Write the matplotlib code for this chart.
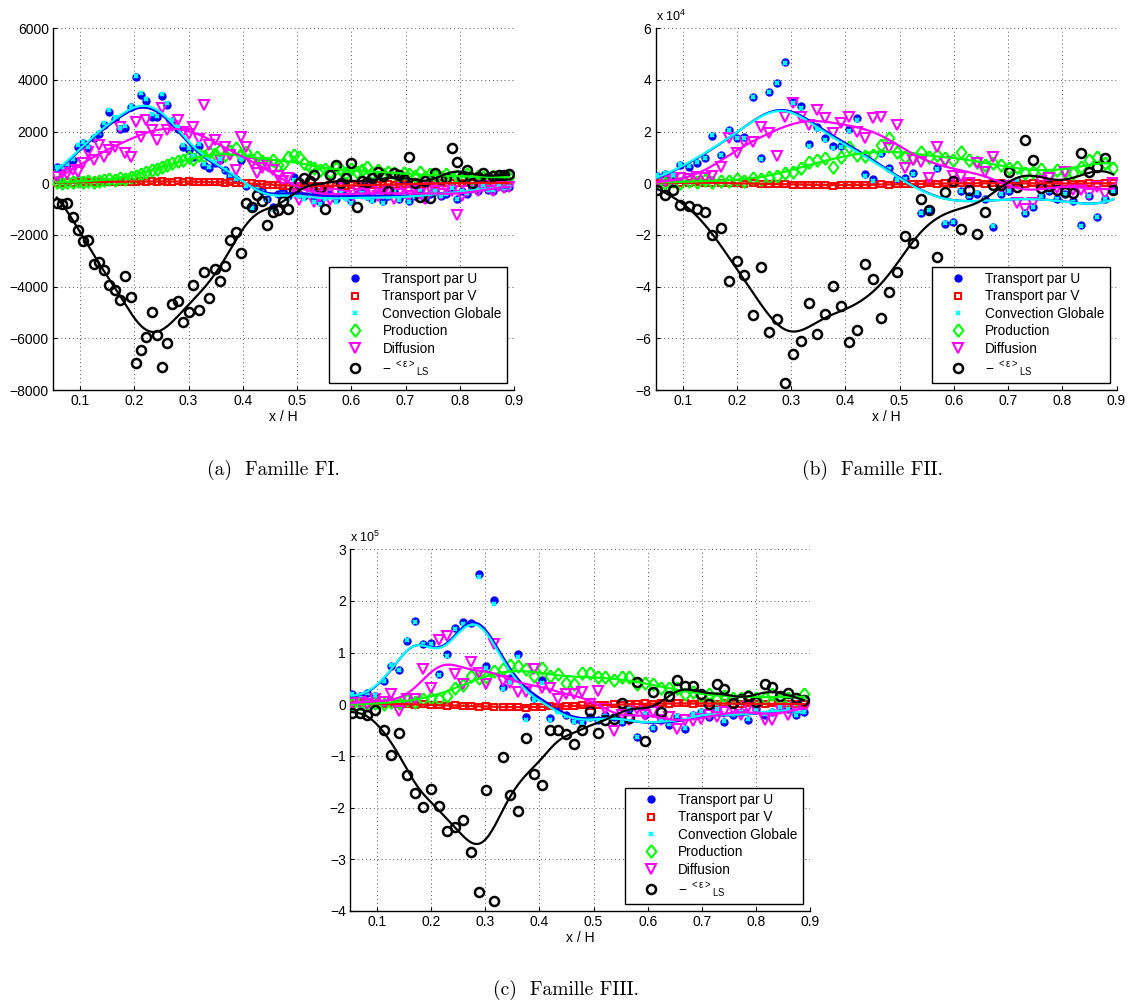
import numpy as np
import matplotlib
matplotlib.use("Agg")
import matplotlib.pyplot as plt

plt.rcParams['font.family'] = ['Liberation Sans', 'DejaVu Sans']
plt.rcParams['mathtext.fontset'] = 'custom'
plt.rcParams['mathtext.rm'] = 'Liberation Sans'
plt.rcParams['mathtext.it'] = 'Liberation Sans'

# ---------------- data : family FI ----------------
x_a = [0.057,0.067,0.076,0.086,0.096,0.106,0.115,0.125,0.135,0.144,
       0.154,0.164,0.173,0.183,0.193,0.203,0.212,0.222,0.232,0.241,
       0.251,0.261,0.270,0.280,0.290,0.300,0.309,0.319,0.329,0.338,
       0.348,0.358,0.367,0.377,0.387,0.397,0.406,0.416,0.426,0.435,
       0.445,0.455,0.464,0.474,0.484,0.494,0.503,0.513,0.523,0.532,
       0.542,0.552,0.561,0.571,0.581,0.591,0.600,0.610,0.620,0.629,
       0.639,0.649,0.658,0.668,0.678,0.688,0.697,0.707,0.717,0.726,
       0.736,0.746,0.755,0.765,0.775,0.785,0.794,0.804,0.814,0.823,
       0.833,0.843,0.852,0.862,0.872,0.882,0.891]
u_a = [620,600,700,900,1420,1550,1350,1740,1900,2260,
       2770,2500,2100,2130,2940,4100,3420,3200,2580,2550,
       3380,3030,2400,2100,1400,1300,1000,1450,700,580,
       770,900,500,300,150,900,-100,-970,-200,-300,
       -600,-900,-400,-300,-500,260,-400,-500,-300,-600,
       -710,-500,-400,-600,-300,-500,-700,-400,-300,-500,
       -600,-400,-700,-500,-300,-600,-400,-700,-500,-300,
       -600,-400,-300,-500,-400,-200,-600,-300,-400,-200,
       -300,-100,-250,-300,-100,-200,-150]
v_a = [30,20,40,30,50,40,60,50,40,60,
       70,50,60,80,70,60,80,70,90,60,
       80,70,60,90,70,80,60,70,50,60,
       40,50,30,40,20,30,10,0,-20,-40,
       -60,-80,-70,-100,-90,-120,-100,-110,-90,-130,
       -100,-120,-80,-110,-90,-100,-70,-90,-80,-60,
       -70,-50,-60,-40,-50,-30,-40,-20,-30,-10,
       -20,0,-10,10,0,20,10,0,20,10,
       30,20,10,30,20,10,20]
p_a = [50,30,60,40,80,50,90,70,100,120,
       150,130,200,180,250,300,350,420,500,550,
       620,700,780,850,900,1000,950,1100,1050,1200,
       1150,1300,1100,1250,1350,1100,1200,900,1000,850,
       800,900,700,750,1000,1100,1030,800,650,600,
       500,550,450,600,500,400,550,450,500,650,
       400,500,350,450,400,300,400,350,300,450,
       250,350,300,250,350,200,300,250,350,200,
       300,250,200,300,250,200,250]
d_a = [260,390,350,500,450,770,1230,900,1480,1030,
       1300,1420,2190,1160,1030,2390,1800,2450,2060,1680,
       2900,2060,2200,2450,2000,1900,2190,1700,3030,1480,
       1680,900,1420,1100,520,1800,1420,770,390,600,
       700,520,300,100,200,-200,-650,-400,-300,-710,
       -500,-300,-650,-400,-200,-500,-650,-300,-400,-200,
       -300,-500,-400,-300,-600,-400,-200,-500,-300,-400,
       -600,-200,-300,-400,-200,-300,-1220,-500,-300,-200,
       -300,-100,-200,-300,-100,-200,-150]
e_a = [-770,-800,-780,-1290,-1800,-2220,-2190,-3130,-3030,-3350,
       -3930,-4130,-4510,-3590,-4390,-6940,-6450,-5960,-4970,-5870,
       -7120,-6170,-4680,-4550,-5350,-4970,-3930,-4900,-3420,-4450,
       -3310,-3770,-3200,-2190,-1900,-2700,-770,-900,-450,-700,
       -1610,-1100,-1030,-670,-1000,-250,30,200,100,320,
       -200,-1000,320,710,0,190,770,-930,100,60,
       200,450,300,-300,390,320,150,1030,0,-520,
       100,-580,390,150,190,1380,840,260,520,0,
       260,390,200,300,320,320,350]

# ---------------- data : family FII (x 1e4) ----------------
x_b = [0.052,0.067,0.082,0.096,0.111,0.126,0.141,0.155,0.170,0.185,
       0.200,0.214,0.229,0.244,0.259,0.274,0.288,0.303,0.318,0.333,
       0.347,0.362,0.377,0.392,0.406,0.421,0.436,0.451,0.466,0.480,
       0.495,0.510,0.525,0.539,0.554,0.569,0.584,0.599,0.613,0.628,
       0.643,0.658,0.672,0.687,0.702,0.717,0.731,0.746,0.761,0.776,
       0.791,0.805,0.820,0.835,0.850,0.864,0.879,0.894]
u_b = [0.30,0.36,0.30,0.71,0.65,0.77,0.97,1.83,1.10,2.06,
       1.74,1.78,3.35,0.97,3.55,3.90,4.71,3.16,2.99,1.51,
       2.19,1.74,1.45,1.45,2.10,2.52,0.35,0.15,1.16,0.60,
       0.15,0.20,0.39,-1.13,-1.02,0.58,-1.56,-1.50,-0.30,-0.50,
       -0.40,-0.60,-1.69,-0.40,-0.30,0.10,-1.14,-0.90,-0.50,-0.30,
       -0.60,-0.40,-0.70,-1.63,-0.50,-1.30,-0.60,-0.30]
v_b = [0.02,0.03,0.01,0.03,0.02,0.04,0.02,0.03,0.01,0.02,
       0.00,-0.01,0.00,-0.02,-0.03,-0.02,-0.04,-0.05,-0.06,-0.05,
       -0.08,-0.07,-0.09,-0.06,-0.08,-0.07,-0.06,-0.05,-0.04,-0.05,
       -0.03,-0.04,-0.02,-0.03,0.00,-0.02,0.01,-0.01,0.02,0.00,
       0.01,-0.01,0.02,0.00,-0.01,0.01,-0.02,0.00,-0.01,0.01,
       -0.02,0.00,-0.01,-0.02,0.00,-0.01,0.01,0.00]
p_b = [0.05,0.00,0.08,0.02,0.10,0.05,0.12,0.06,0.10,0.08,
       0.15,0.10,0.20,0.15,0.25,0.30,0.39,0.45,0.60,0.84,
       0.90,0.97,0.65,1.03,1.42,1.10,1.05,1.10,1.48,1.74,
       1.20,1.00,0.97,1.20,1.03,1.10,0.97,0.90,1.23,0.90,
       0.84,0.70,0.77,0.70,0.58,0.65,0.39,0.45,0.55,0.32,
       0.52,0.45,0.39,0.65,0.90,1.03,0.77,0.58]
d_b = [0.06,0.10,0.12,0.20,0.15,0.25,0.19,0.30,0.65,1.74,
       1.16,1.61,1.61,2.19,1.94,1.06,2.58,3.10,2.58,2.26,
       2.84,2.52,1.94,2.32,2.58,2.00,1.74,2.52,2.58,1.35,
       2.26,0.58,0.90,0.84,0.19,1.42,0.84,0.30,0.25,0.00,
       0.77,0.45,1.03,-0.20,-0.10,-0.75,-1.00,-0.75,0.10,0.20,
       -0.20,0.45,-0.25,-0.25,-0.40,-0.15,-0.40,0.00]
e_b = [-0.27,-0.46,-0.25,-0.85,-0.89,-0.98,-1.11,-2.01,-1.72,-3.79,
       -3.01,-3.56,-5.08,-3.24,-5.75,-5.26,-7.72,-6.59,-6.12,-4.62,
       -5.85,-5.07,-3.97,-4.76,-6.14,-5.69,-3.11,-3.72,-5.20,-4.21,
       -3.43,-2.05,-2.31,-0.62,-1.05,-2.85,-0.34,0.09,-1.75,-0.27,
       -1.97,-1.11,-0.08,-0.06,0.45,-0.13,1.68,0.90,-0.19,-0.10,
       -0.26,-0.32,-0.39,1.16,0.45,0.65,0.97,-0.26]

# ---------------- data : family FIII (x 1e5) ----------------
x_c = [0.053,0.068,0.082,0.097,0.112,0.126,0.141,0.156,0.170,0.185,
       0.200,0.214,0.229,0.244,0.258,0.273,0.288,0.302,0.317,0.332,
       0.346,0.361,0.376,0.390,0.405,0.420,0.434,0.449,0.464,0.478,
       0.493,0.508,0.522,0.537,0.552,0.566,0.581,0.596,0.610,0.625,
       0.640,0.654,0.669,0.684,0.698,0.713,0.728,0.742,0.757,0.772,
       0.786,0.801,0.816,0.830,0.845,0.860,0.874,0.889]
u_c = [0.19,0.16,0.21,0.16,0.45,0.74,0.66,1.23,1.61,1.17,
       1.19,0.58,0.97,1.47,1.60,1.58,2.52,0.74,2.01,0.34,
       0.50,0.97,-0.24,0.13,0.48,-0.26,-0.10,-0.20,-0.30,-0.35,
       -0.25,-0.30,-0.20,-0.25,-0.34,-0.10,-0.63,-0.20,-0.46,-0.30,
       -0.40,-0.25,-0.48,-0.20,-0.15,-0.25,-0.10,-0.34,-0.20,-0.15,
       -0.30,-0.10,-0.20,-0.15,-0.05,-0.10,-0.21,-0.15]
v_c = [0.01,0.02,0.00,0.02,0.01,0.02,0.00,0.01,-0.01,0.00,
       -0.02,-0.01,-0.03,-0.02,-0.04,-0.03,-0.05,-0.04,-0.06,-0.05,
       -0.06,-0.05,-0.07,-0.05,-0.06,-0.04,-0.05,-0.03,-0.04,-0.02,
       -0.03,-0.01,-0.02,0.00,-0.01,0.01,0.00,0.02,0.01,0.02,
       0.01,0.03,0.02,0.01,0.03,0.02,0.01,0.02,0.00,0.01,
       0.02,0.00,0.01,0.02,0.00,0.01,0.00,0.01]
p_c = [0.00,0.02,-0.02,0.03,0.00,0.05,0.02,0.08,0.05,0.10,
       0.12,0.10,0.16,0.32,0.38,0.55,0.50,0.52,0.65,0.68,
       0.77,0.74,0.68,0.55,0.71,0.55,0.58,0.42,0.39,0.61,
       0.61,0.52,0.52,0.48,0.52,0.52,0.39,0.42,0.39,0.32,
       0.32,0.32,0.19,0.23,0.16,0.19,0.13,0.16,0.13,0.13,
       0.16,0.13,0.13,0.19,0.10,0.13,0.10,0.19]
d_c = [0.03,0.05,0.00,0.10,0.05,0.19,-0.13,0.10,0.10,0.68,
       0.32,1.24,1.32,0.58,0.39,0.81,0.61,0.39,1.17,0.45,
       0.42,0.23,0.23,0.69,0.32,0.32,0.10,0.19,0.19,0.23,
       0.00,0.25,-0.10,-0.52,-0.20,-0.30,-0.10,-0.20,-0.15,-0.30,
       -0.25,-0.48,-0.30,-0.32,-0.28,-0.20,-0.25,-0.15,-0.10,-0.20,
       -0.05,-0.10,-0.30,-0.30,-0.10,-0.20,-0.05,-0.10]
e_c = [-0.17,-0.17,-0.21,-0.11,-0.50,-0.98,-0.56,-1.37,-1.72,-1.99,
       -1.63,-1.97,-2.46,-2.37,-2.24,-2.86,-3.64,-1.66,-3.81,-1.01,
       -1.75,-2.06,-0.66,-1.34,-1.57,-0.50,-0.50,-0.57,-0.77,-0.50,
       -0.12,-0.56,-0.30,-0.29,0.02,-0.27,0.44,-0.71,0.23,-0.15,
       0.16,0.48,0.35,0.35,0.19,0.00,0.39,0.29,0.03,0.10,
       0.16,0.05,0.39,0.34,0.16,0.21,0.12,0.08]

labels = ["Transport par U", "Transport par V", "Convection Globale",
          "Production", "Diffusion",
          "\u2212 $^{\\mathregular{<\u03b5>}}$$_{\\mathregular{LS}}$"]
captions = ["(a)  Famille FI.", "(b)  Famille FII.", "(c)  Famille FIII."]


def smooth(x, y, h):
    x = np.asarray(x, float)
    y = np.asarray(y, float)
    xs = np.linspace(x.min(), x.max(), 300)
    out = []
    for x0 in xs:
        w = np.exp(-0.5 * ((x - x0) / h) ** 2)
        W = w.sum()
        mx = (w * x).sum() / W
        my = (w * y).sum() / W
        b = (w * (x - mx) * (y - my)).sum() / (w * (x - mx) ** 2).sum()
        out.append(my + b * (x0 - mx))
    return xs, np.array(out)


W, H = 1133, 1006
fig = plt.figure(figsize=(W / 100, H / 100), dpi=100)

# bandwidths: U, V, Conv, P, D, E
panels = [
    dict(rect=(53, 28.3, 461, 361.7), x=x_a, u=u_a, v=v_a, p=p_a, d=d_a, e=e_a,
         ylim=(-8000, 6000), yt=np.arange(-8000, 6001, 2000), exp=None,
         cap=(273, 470), bw=(0.032, 0.04, 0.032, 0.04, 0.04, 0.028)),
    dict(rect=(655.5, 28.3, 461, 361.7), x=x_b, u=u_b, v=v_b, p=p_b, d=d_b, e=e_b,
         ylim=(-8, 6), yt=np.arange(-8, 7, 2), exp='4', cap=(872, 470),
         bw=(0.05, 0.04, 0.05, 0.045, 0.045, 0.04)),
    dict(rect=(350, 549.3, 460, 361.7), x=x_c, u=u_c, v=v_c, p=p_c, d=d_c, e=e_c,
         ylim=(-4, 3), yt=np.arange(-4, 4, 1), exp='5', cap=(566, 990),
         bw=(0.027, 0.04, 0.027, 0.045, 0.032, 0.025)),
]

blue, red, cyan, green, mag = '#0000ff', '#ff0000', '#00ffff', '#00ff00', '#ff00ff'
diamond = [(0, 1), (0.78, 0), (0, -1), (-0.78, 0), (0, 1)]

for k, P in enumerate(panels):
    l, t, w, h = P['rect']
    ax = fig.add_axes([l / W, 1 - (t + h) / H, w / W, h / H])
    x = P['x']
    conv = [a + b for a, b in zip(P['u'], P['v'])]
    ax.plot(x, P['u'], 'o', ls='none', color=blue, mec=blue, ms=5, zorder=3, label=labels[0])
    ax.plot(x, P['v'], 's', ls='none', mfc='none', mec=red, ms=5, mew=1.5, zorder=3, label=labels[1])
    ax.plot(x, conv, 'x', ls='none', color=cyan, ms=3.5, mew=1.5, zorder=3.1, label=labels[2])
    ax.plot(x, P['p'], marker=diamond, ls='none', mfc='none', mec=green, ms=9, mew=1.5, zorder=3, label=labels[3])
    ax.plot(x, P['d'], 'v', ls='none', mfc='none', mec=mag, ms=7.5, mew=1.5, zorder=3, label=labels[4])
    ax.plot(x, P['e'], 'o', ls='none', mfc='none', mec='black', ms=6.5, mew=1.8, zorder=3.2, label=labels[5])

    bws = P['bw']
    for ser, col, bw in [(P['u'], blue, bws[0]), (P['v'], red, bws[1]), (conv, cyan, bws[2]),
                         (P['p'], green, bws[3]), (P['d'], mag, bws[4]), (P['e'], 'black', bws[5])]:
        xs, ys = smooth(x, ser, bw)
        ax.plot(xs, ys, '-', color=col, lw=1.6, zorder=4)

    ax.set_xlim(0.05, 0.9)
    ax.set_ylim(*P['ylim'])
    ax.set_xticks([0.1, 0.2, 0.3, 0.4, 0.5, 0.6, 0.7, 0.8, 0.9])
    ax.set_xticklabels(['0.1', '0.2', '0.3', '0.4', '0.5', '0.6', '0.7', '0.8', '0.9'])
    ax.set_yticks(P['yt'])
    ax.set_yticklabels([('%d' % v).replace('-', '\u2212') for v in P['yt']])
    ax.tick_params(direction='in', length=3, labelsize=10, pad=3)
    ax.grid(True, color='#555555', linestyle=(0, (1, 3)), linewidth=0.7)
    for s in ['top', 'right']:
        ax.spines[s].set_visible(False)
    for s in ['left', 'bottom']:
        ax.spines[s].set_linewidth(1.0)
    ax.set_xlabel('x / H', fontsize=10, labelpad=1)
    if P['exp']:
        ax.text(0.0, 1.012, 'x 10$^{%s}$' % P['exp'], transform=ax.transAxes,
                fontsize=9, ha='left', va='bottom')
    leg = ax.legend(loc='lower right', fontsize=9.8, frameon=True, fancybox=False,
                    edgecolor='black', framealpha=1, borderaxespad=0.5,
                    borderpad=0.4, handlelength=3.0, handletextpad=0.5,
                    labelspacing=0.25, numpoints=1)
    leg.get_frame().set_linewidth(1.0)
    leg.set_zorder(10)

    cx, cy = P['cap']
    fig.text(cx / W, 1 - cy / H, captions[k], fontsize=14, family='cmr10',
             ha='center', va='center')

fig.savefig('out.png', dpi=100)
